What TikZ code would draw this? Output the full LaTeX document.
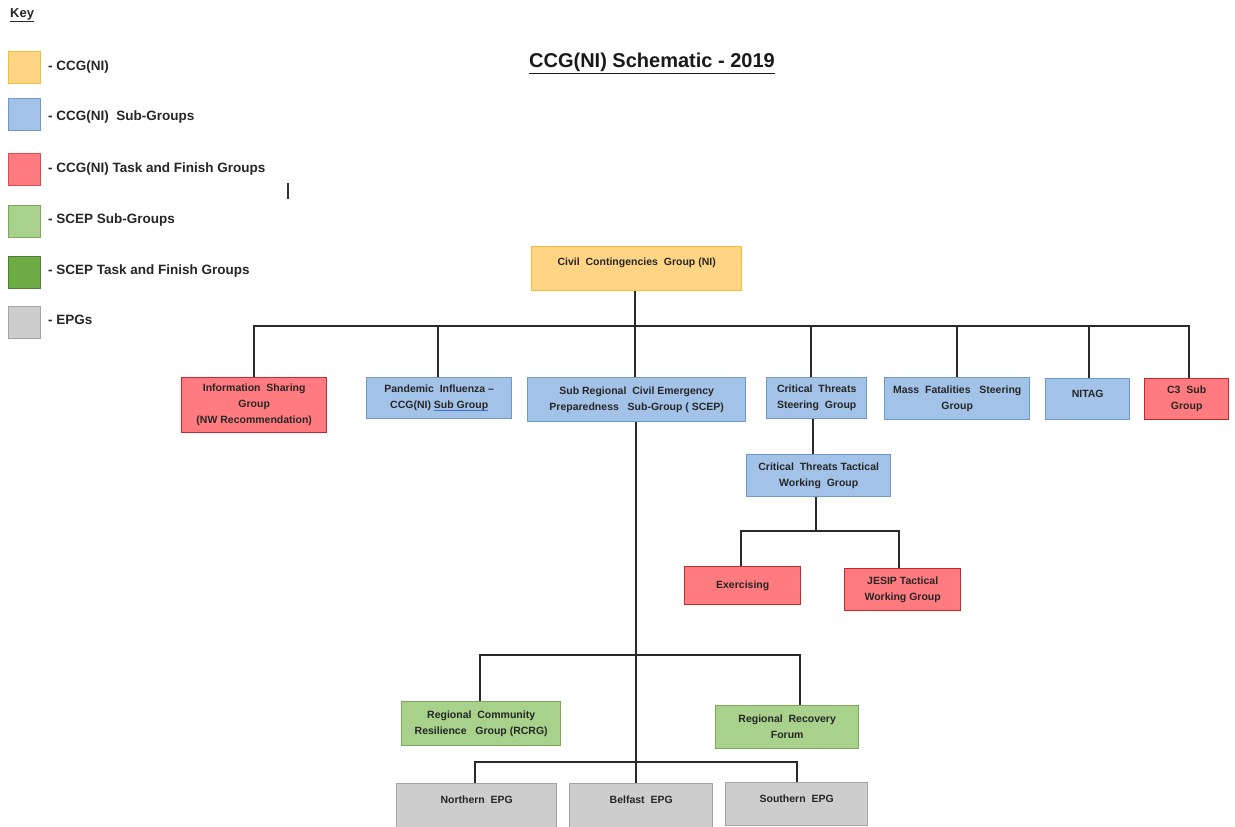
\documentclass[tikz,border=0pt]{standalone}
\usepackage{fontspec}
\setmainfont{Liberation Sans}
\definecolor{ulblue}{HTML}{4472C4}
\newcommand\bluul[1]{\setbox0\hbox{#1}\rlap{\color{ulblue}\rule[-2.5pt]{\wd0}{0.9pt}}\box0}
\definecolor{yfill}{HTML}{FFD585}
\definecolor{ydraw}{HTML}{F2BE3A}
\definecolor{bfill}{HTML}{A3C2E8}
\definecolor{bdraw}{HTML}{6E9AC9}
\definecolor{rfill}{HTML}{FF7B7F}
\definecolor{rdraw}{HTML}{C8282C}
\definecolor{gfill}{HTML}{A8D18C}
\definecolor{gdraw}{HTML}{7CA85C}
\definecolor{dgfill}{HTML}{6DAB45}
\definecolor{dgdraw}{HTML}{4E7E30}
\definecolor{grfill}{HTML}{CDCDCD}
\definecolor{grdraw}{HTML}{A3A3A3}
\definecolor{linec}{HTML}{2A2A2A}
\begin{document}
\begin{tikzpicture}[x=1pt,y=-1pt,
  base/.style={anchor=north west, inner sep=1pt, align=center, line width=1.4pt,
    font=\fontsize{10.5}{16}\selectfont\bfseries, text=black!85},
  ybox/.style={base, fill=yfill, draw=ydraw},
  bbox/.style={base, fill=bfill, draw=bdraw},
  rbox/.style={base, fill=rfill, draw=rdraw},
  gbox/.style={base, fill=gfill, draw=gdraw},
  grbox/.style={base, fill=grfill, draw=grdraw},
  keysq/.style={anchor=north west, minimum width=32pt, minimum height=32pt, inner sep=0pt, line width=1pt},
  keytxt/.style={anchor=west, inner sep=0pt, font=\fontsize{13.5}{16}\selectfont\bfseries, text=black!85},
  conn/.style={draw=linec, line width=1.3pt}
]
\useasboundingbox (0,0) rectangle (1235,827);
\fill[white] (0,0) rectangle (1235,827);

% Key
\node[anchor=west, inner sep=0pt, font=\fontsize{13}{15}\selectfont\bfseries, text=black!85] (key) at (10,15) {\underline{Key}};
\node[keysq, fill=yfill, draw=ydraw] (k1) at (8,51) {};
\node[keysq, fill=bfill, draw=bdraw] (k2) at (8,98) {};
\node[keysq, fill=rfill, draw=rdraw!60!rfill] (k3) at (8,153) {};
\node[keysq, fill=gfill, draw=gdraw] (k4) at (8,205) {};
\node[keysq, fill=dgfill, draw=dgdraw] (k5) at (8,256) {};
\node[keysq, fill=grfill, draw=grdraw] (k6) at (8,306) {};
\node[keytxt] (t1) at (48,67) {- CCG(NI)};
\node[keytxt] (t2) at (48,117) {- CCG(NI)\ \ Sub-Groups};
\node[keytxt] (t3) at (48,169) {- CCG(NI) Task and Finish Groups};
\node[keytxt] (t4) at (48,220) {- SCEP\ Sub-Groups};
\node[keytxt] (t5) at (48,271) {- SCEP Task and Finish Groups};
\node[keytxt] (t6) at (48,320) {- EPGs};
\draw[line width=1.2pt, black!80] (288,183) -- (288,199);

% Title
\node[inner sep=0pt, font=\fontsize{20}{24}\selectfont\bfseries, text=black!90] (title) at (652,63) {\underline{CCG(NI) Schematic - 2019}};

% Top
\node[ybox, minimum width=210pt, minimum height=44pt, text depth=14pt] (ccg) at (531,246) {Civil\ \ Contingencies\ \ Group (NI)};

% Row 1
\node[rbox, minimum width=145pt, minimum height=55pt] (isg) at (181,377) {Information\ \ Sharing\\Group\\(NW Recommendation)};
\node[bbox, minimum width=145pt, minimum height=41pt] (pan) at (366,377) {Pandemic\ \ Influenza --\\CCG(NI) \bluul{Sub Group}};
\node[bbox, minimum width=218pt, minimum height=44pt] (scep) at (527,377) {Sub Regional\ \ Civil Emergency\\Preparedness\ \ \ Sub-Group\ ( SCEP)};
\node[bbox, minimum width=100pt, minimum height=41pt] (cts) at (766,377) {Critical\ \ Threats\\Steering\ \ Group};
\node[bbox, minimum width=145pt, minimum height=42pt] (mfs) at (884,377) {Mass\ \ Fatalities\ \ \ Steering\\Group};
\node[bbox, minimum width=84pt, minimum height=41pt, text depth=10pt] (nitag) at (1045,378) {NITAG};
\node[rbox, minimum width=84pt, minimum height=41pt] (c3) at (1144,378) {C3\ \ Sub\\Group};

% Critical threats branch
\node[bbox, minimum width=144pt, minimum height=42pt] (ctt) at (746,454) {Critical\ \ Threats Tactical\\Working\ \ Group};
\node[rbox, minimum width=116pt, minimum height=38pt] (exer) at (684,566) {Exercising};
\node[rbox, minimum width=116pt, minimum height=42pt] (jesip) at (844,568) {JESIP Tactical\\Working Group};

% SCEP branch
\node[gbox, minimum width=159pt, minimum height=44pt] (rcrg) at (401,701) {Regional\ \ Community\\Resilience\ \ \ Group (RCRG)};
\node[gbox, minimum width=143pt, minimum height=43pt] (rrf) at (715,705) {Regional\ \ Recovery\\Forum};
\node[grbox, minimum width=160pt, minimum height=44pt, text depth=12pt] (nepg) at (396,783) {Northern\ \ EPG};
\node[grbox, minimum width=143pt, minimum height=44pt, text depth=12pt] (bepg) at (569,783) {Belfast\ \ EPG};
\node[grbox, minimum width=142pt, minimum height=43pt, text depth=12pt] (sepg) at (725,782) {Southern\ \ EPG};

% Connectors
\coordinate (bus1) at (635,326);
\coordinate (bus2) at (816,531);
\coordinate (bus3) at (636,655);
\coordinate (bus4) at (636,762);

\draw[conn] (ccg.south -| bus1) -- (scep.north -| bus1);
\draw[conn] (isg.north -| 254,0) |- (bus1) -| (c3.north -| 1189,0);
\draw[conn] (pan.north -| 438,0) -- (438,326);
\draw[conn] (cts.north -| 811,0) -- (811,326);
\draw[conn] (mfs.north -| 957,0) -- (957,326);
\draw[conn] (nitag.north -| 1089,0) -- (1089,326);

\draw[conn] (cts.south -| 813,0) -- (ctt.north -| 813,0);
\draw[conn] (ctt.south -| bus2) -- (bus2);
\draw[conn] (exer.north -| 741,0) |- (bus2) -| (jesip.north -| 899,0);

\draw[conn] (scep.south -| bus3) -- (bus3) -- (bus4) -- (bepg.north -| bus4);
\draw[conn] (rcrg.north -| 480,0) |- (bus3) -| (rrf.north -| 800,0);
\draw[conn] (nepg.north -| 475,0) |- (bus4) -| (sepg.north -| 797,0);
\end{tikzpicture}
\end{document}
